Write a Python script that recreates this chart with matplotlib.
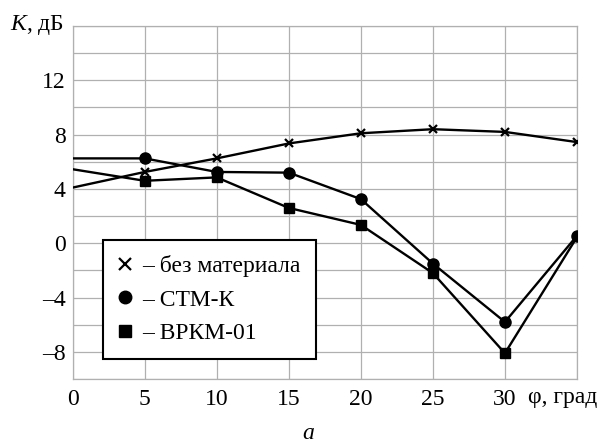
import matplotlib
matplotlib.use('Agg')
import matplotlib.pyplot as plt
from matplotlib.lines import Line2D

plt.rcParams['font.family'] = ['Liberation Serif', 'DejaVu Serif']
plt.rcParams['mathtext.fontset'] = 'custom'
plt.rcParams['mathtext.it'] = 'Liberation Serif:italic'

# angle, degrees
angle = [0, 5, 10, 15, 20, 25, 30, 35]
# K, dB
k_none = [4.1, 5.25, 6.25, 7.35, 8.1, 8.4, 8.2, 7.45]
k_stm = [6.25, 6.25, 5.25, 5.2, 3.25, -1.5, -5.8, 0.55]
k_vrkm = [5.45, 4.6, 4.85, 2.6, 1.35, -2.2, -8.1, 0.45]

x_ticks = [0, 5, 10, 15, 20, 25, 30]
y_ticks = [-8, -4, 0, 4, 8, 12]
legend_labels = ['– без материала', '– СТМ-К', '– ВРКМ-01']

FS = 17

fig = plt.figure(figsize=(6.14, 4.44), dpi=100)
ax = fig.add_axes([0.1184, 0.1464, 0.8213, 0.795])

lw = 1.7
# lines without marker at first point
ax.plot(angle, k_none, color='black', lw=lw, zorder=3)
ax.plot(angle[1:], k_none[1:], 'x', color='black', ms=6, mew=1.6, zorder=4)
ax.plot(angle, k_vrkm, color='black', lw=lw, zorder=3)
ax.plot(angle[1:-1], k_vrkm[1:-1], 's', color='black', ms=7, zorder=4)
ax.plot(angle, k_stm, color='black', lw=lw, zorder=3)
ax.plot(angle[1:], k_stm[1:], 'o', color='black', ms=8, zorder=4)

ax.set_xlim(0, 35)
ax.set_ylim(-10, 16)
ax.grid(True, color='#b0b0b0', lw=0.9)
for s in ax.spines.values():
    s.set_color('#b0b0b0')
    s.set_linewidth(0.9)
ax.tick_params(length=0, labelsize=FS)
ax.tick_params(axis='x', pad=7)
ax.tick_params(axis='y', pad=5)

xt = list(range(0, 36, 5))
ax.set_xticks(xt)
ax.set_xticklabels([str(v) if v in x_ticks else '' for v in xt])
yt = list(range(-10, 17, 2))
ax.set_yticks(yt)
ax.set_yticklabels([(str(v).replace('-', '–') if v in y_ticks else '') for v in yt])

fig.text(528 / 614, 1 - 398 / 444, 'φ, град', fontsize=FS, va='center', ha='left')
fig.text(10 / 614, 1 - 25 / 444, '$K$, дБ', fontsize=FS, va='center', ha='left')
fig.text(308 / 614, 1 - 433 / 444, 'a', fontsize=FS, style='italic', va='center', ha='center')

handles = [
    Line2D([], [], color='black', marker='x', ls='none', ms=8, mew=1.6),
    Line2D([], [], color='black', marker='o', ls='none', ms=9),
    Line2D([], [], color='black', marker='s', ls='none', ms=8),
]
leg = ax.legend(handles, legend_labels, loc='upper left',
                bbox_to_anchor=(0.06, 0.394), borderaxespad=0,
                fancybox=False, framealpha=1, edgecolor='black',
                fontsize=FS, handlelength=0.6, handletextpad=0.4,
                labelspacing=0.5, borderpad=0.65)
leg.get_frame().set_linewidth(1.5)
leg.set_zorder(5)

fig.savefig('out.png', dpi=100)
